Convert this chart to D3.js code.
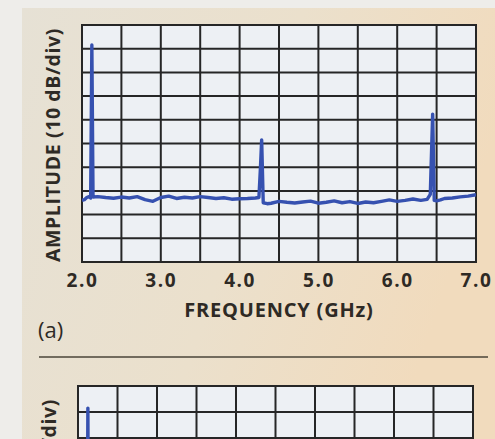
<!DOCTYPE html>
<html lang="en">
<head>
<meta charset="utf-8">
<title>Spectrum</title>
<script src="https://d3js.org/d3.v7.min.js"></script>
<style>
  body { margin: 0; background: #f2f0ec; }
  svg { display: block; }
  .tick text { font-family: "Open Sans", sans-serif; font-weight: 700; }
</style>
</head>
<body>
<script>
// frequency axis (GHz) and amplitude (dB, 10 dB/div)
var freqTicks = [2.0, 3.0, 4.0, 5.0, 6.0, 7.0];
var gridFreqs = [2.0, 2.5, 3.0, 3.5, 4.0, 4.5, 5.0, 5.5, 6.0, 6.5, 7.0];
var gridDb = [0, 10, 20, 30, 40, 50, 60, 70, 80, 90, 100];

// trace (a)
var freqA = [2.00, 2.03, 2.06, 2.09, 2.11, 2.125, 2.14, 2.2, 2.3, 2.4, 2.5, 2.6, 2.7, 2.8, 2.9,
             3.0, 3.1, 3.2, 3.3, 3.4, 3.5, 3.6, 3.7, 3.8, 3.9, 4.0, 4.1, 4.2, 4.245,
             4.265, 4.28, 4.30, 4.35, 4.4, 4.5, 4.6, 4.7, 4.8, 4.9, 5.0, 5.1, 5.2, 5.3,
             5.4, 5.5, 5.6, 5.7, 5.8, 5.9, 6.0, 6.1, 6.2, 6.3, 6.38, 6.42, 6.45, 6.47,
             6.5, 6.55, 6.6, 6.7, 6.8, 6.9, 7.0];
var dbA   = [26.0, 26.3, 27.2, 27.6, 27.0, 91.6, 27.4, 27.6, 27.2, 26.9, 27.4, 27.0, 27.6, 26.3, 25.6,
             27.2, 27.8, 26.8, 27.3, 27.0, 27.6, 27.2, 26.8, 27.1, 26.5, 26.7, 26.8, 27.0, 27.2,
             40.0, 51.5, 25.0, 24.6, 24.8, 25.6, 25.2, 24.9, 25.3, 25.7, 24.8, 25.2, 25.8, 25.0,
             25.5, 24.7, 25.3, 25.0, 25.6, 26.2, 25.6, 26.0, 26.6, 26.0, 26.4, 28.5, 62.4, 26.0,
             25.8, 26.2, 26.8, 27.0, 27.5, 27.8, 28.4];

// trace (b): only the top of the first line shows in the picture
var freqB = [2.00, 2.10, 2.115, 2.125, 2.135, 2.2, 3.0, 4.0, 5.0, 6.0, 7.0];
var dbB   = [20.0, 20.5, 21.0, 91.5, 21.0, 20.5, 20.2, 20.0, 20.3, 20.1, 20.4];

var W = 495, H = 439;
var svg = d3.select("body").append("svg").attr("width", W).attr("height", H);

var defs = svg.append("defs");
var grad = defs.append("linearGradient").attr("id", "panel")
    .attr("x1", "0%").attr("y1", "0%").attr("x2", "100%").attr("y2", "30%");
grad.append("stop").attr("offset", "0%").attr("stop-color", "#e6e1d5");
grad.append("stop").attr("offset", "55%").attr("stop-color", "#ebe0cc");
grad.append("stop").attr("offset", "100%").attr("stop-color", "#f1dbbd");

// page and beige panel
svg.append("rect").attr("width", W).attr("height", H).attr("fill", "#eeedea");
svg.append("rect").attr("x", 22).attr("y", 8).attr("width", W - 22).attr("height", H - 8)
    .attr("fill", "url(#panel)");

function drawChart(box, freq, db, yTitleEnd, showTicks) {
    var x = d3.scaleLinear().domain([2.0, 7.0]).range([box.left, box.right]);
    var y = d3.scaleLinear().domain([0, 100]).range([box.bottom, box.top]);
    var g = svg.append("g");

    var clipId = "clip" + box.top;
    defs.append("clipPath").attr("id", clipId).append("rect")
        .attr("x", box.left).attr("y", box.top)
        .attr("width", box.right - box.left).attr("height", box.bottom - box.top);

    g.append("rect").attr("x", box.left).attr("y", box.top)
        .attr("width", box.right - box.left).attr("height", box.bottom - box.top)
        .attr("fill", "#edf0f4");

    // grid
    g.selectAll(".vg").data(gridFreqs).enter().append("line")
        .attr("x1", function(d) { return x(d); }).attr("x2", function(d) { return x(d); })
        .attr("y1", box.top).attr("y2", box.bottom)
        .attr("stroke", "#262626").attr("stroke-width", 2);
    g.selectAll(".hg").data(gridDb).enter().append("line")
        .attr("y1", function(d) { return y(d); }).attr("y2", function(d) { return y(d); })
        .attr("x1", box.left - 1).attr("x2", box.right + 1)
        .attr("stroke", "#262626").attr("stroke-width", 2);

    // trace
    var line = d3.line()
        .x(function(d, i) { return x(freq[i]); })
        .y(function(d, i) { return y(db[i]); })
        .curve(d3.curveLinear);
    g.append("path").datum(freq)
        .attr("d", line)
        .attr("clip-path", "url(#" + clipId + ")")
        .attr("fill", "none").attr("stroke", "#3651b0")
        .attr("stroke-width", 3.4).attr("stroke-linejoin", "round");

    if (showTicks) {
        var ax = g.append("g")
            .attr("transform", "translate(0," + (box.bottom + 25) + ")")
            .call(d3.axisBottom(x).tickValues(freqTicks).tickFormat(d3.format(".1f"))
                .tickSize(0).tickPadding(0));
        ax.select(".domain").remove();
        ax.selectAll("text").attr("font-size", 19).attr("fill", "#2e2a25")
            .attr("letter-spacing", 1.6).attr("dy", 0).attr("y", 0);

        g.append("text").attr("x", 279).attr("y", box.bottom + 55)
            .attr("text-anchor", "middle")
            .attr("font-family", "Open Sans, sans-serif").attr("font-weight", 700)
            .attr("font-size", 20).attr("letter-spacing", 0.8).attr("fill", "#2e2a25")
            .text("FREQUENCY (GHz)");
    }

    g.append("text")
        .attr("transform", "translate(" + box.titleX + "," + yTitleEnd + ") rotate(-90)")
        .attr("text-anchor", "end")
        .attr("font-family", "Open Sans, sans-serif").attr("font-weight", 700)
        .attr("font-size", 19.5).attr("letter-spacing", 0.6).attr("fill", "#2e2a25")
        .text("AMPLITUDE (10 dB/div)");
}

drawChart({left: 82, right: 476, top: 25, bottom: 262, titleX: 60}, freqA, dbA, 28, true);
drawChart({left: 78, right: 473, top: 386, bottom: 646, titleX: 56}, freqB, dbB, 399, false);

// panel label and separator
svg.append("text").attr("x", 38).attr("y", 338)
    .attr("font-family", "Open Sans, sans-serif").attr("font-size", 22)
    .attr("fill", "#2e2a25").text("(a)");
svg.append("line").attr("x1", 39).attr("x2", 488).attr("y1", 357).attr("y2", 357)
    .attr("stroke", "#4a4538").attr("stroke-width", 1.5);
</script>
</body>
</html>
